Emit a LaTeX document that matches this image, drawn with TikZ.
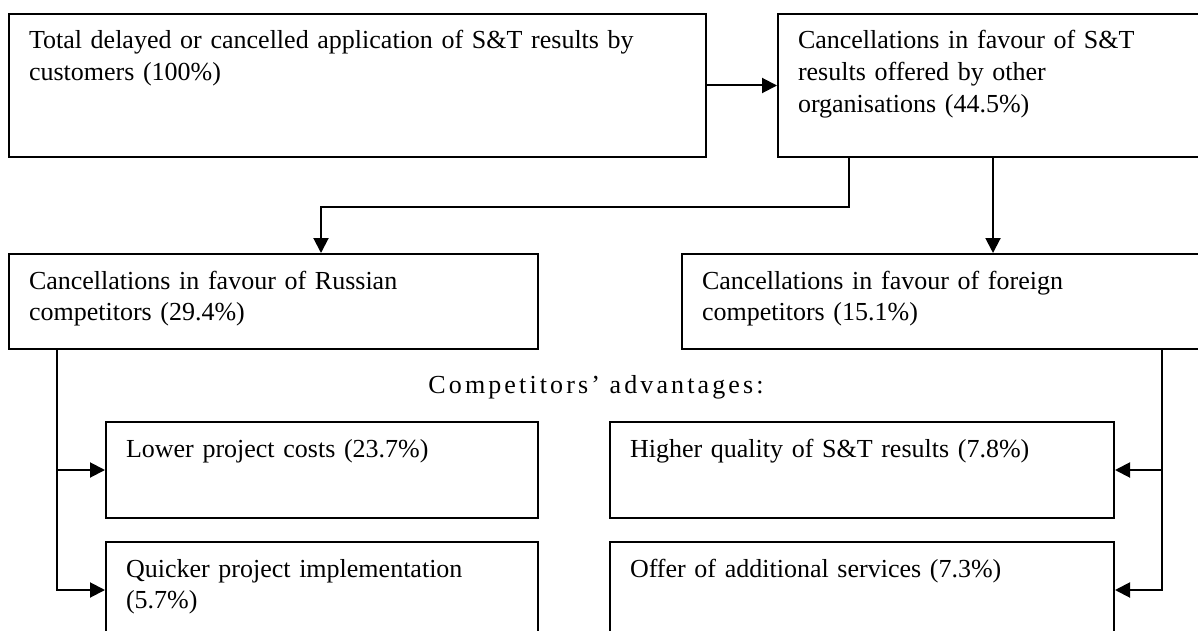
\documentclass[tikz,border=0pt]{standalone}
\usepackage{fontspec}
\setmainfont{Liberation Serif}
\usetikzlibrary{arrows.meta,positioning}

\begin{document}
\begin{tikzpicture}[x=0.5pt, y=-0.5pt,
    box/.style={draw, line width=1pt, anchor=north west, align=left,
      inner xsep=10pt, inner ysep=0pt, text height=17.5pt,
      font=\fontsize{13pt}{15.8pt}\selectfont},
    link/.style={line width=1pt},
    arr/.style={link, -{Triangle[length=7.5pt, width=7.5pt]}}]
  \useasboundingbox (0,0) rectangle (1198,631);

  \node[box, text width=328.5pt, text depth=54pt] (total) at (8,13)
    {Total delayed or cancelled application of S\&T results by\\
     customers (100\%)};
  \node[box, text width=196.5pt, text depth=54pt] (offered) at (777,13)
    {Cancellations in favour of S\&T\\
     results offered by other\\
     organisations (44.5\%)};

  \node[box, text width=244.5pt, text depth=30pt] (russian) at (8,253)
    {Cancellations in favour of Russian\\
     competitors (29.4\%)};
  \node[box, text width=244.5pt, text depth=30pt] (foreign) at (681,253)
    {Cancellations in favour of foreign\\
     competitors (15.1\%)};

  \node[anchor=base, font=\fontsize{13pt}{15.8pt}\selectfont\addfontfeature{LetterSpace=12}]
    (adv) at (596,393) {Competitors' advantages:};

  \node[box, text width=196pt, text depth=30.5pt] (lower) at (105,421)
    {Lower project costs (23.7\%)};
  \node[box, text width=196pt, text depth=30.5pt] (quicker) at (105,541)
    {Quicker project implementation\\
     (5.7\%)};
  \node[box, text width=232pt, text depth=30.5pt] (quality) at (609,421)
    {Higher quality of S\&T results (7.8\%)};
  \node[box, text width=232pt, text depth=30.5pt] (services) at (609,541)
    {Offer of additional services (7.3\%)};

  \draw[arr] (total.east) -- (offered.west);
  \draw[arr] ([xshift=36pt]offered.south west) -- ++(0,-24.5pt)
    -| ([xshift=156.5pt]russian.north west);
  \draw[arr] ([xshift=108pt]offered.south west)
    -- ([xshift=108pt]offered.south west |- foreign.north);

  \draw[arr] ([xshift=24.5pt]russian.south west) |- (lower.west);
  \draw[arr] ([xshift=24.5pt]russian.south west) |- (quicker.west);
  \draw[arr] ([xshift=240.5pt]foreign.south west) |- (quality.east);
  \draw[arr] ([xshift=240.5pt]foreign.south west) |- (services.east);
\end{tikzpicture}
\end{document}
